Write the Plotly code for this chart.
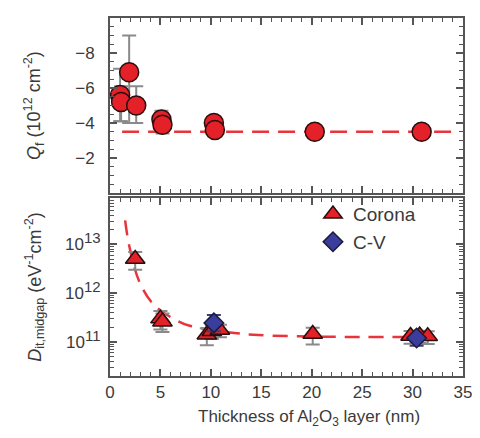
import plotly.graph_objects as go
from plotly.subplots import make_subplots

# ---- Top panel: fixed charge Qf (10^12 cm^-2)
qf_x = [1.0, 1.1, 1.9, 2.6, 5.1, 5.2, 10.3, 10.4, 20.3, 30.9]
qf_y = [-5.6, -5.2, -6.9, -5.0, -4.2, -3.9, -4.0, -3.6, -3.5, -3.5]
qf_err_plus = [1.5, 1.1, 2.9, 1.0, 0.6, 0.5, 0.2, 0.2, 0.1, 0.1]   # toward less negative
qf_err_minus = [1.5, 0.9, 2.1, 1.1, 0.5, 0.6, 0.2, 0.2, 0.1, 0.1]  # toward more negative
qf_fit_x = [1.2, 34.0]
qf_fit_y = [-3.5, -3.5]

# ---- Bottom panel: Dit,midgap (eV^-1 cm^-2)
corona_x = [2.5, 5.0, 5.2, 9.6, 10.1, 10.9, 20.1, 29.8, 30.7, 31.5]
corona_y = [5.0e12, 3.0e11, 2.6e11, 1.4e11, 1.65e11, 1.75e11, 1.45e11, 1.32e11, 1.35e11, 1.3e11]
corona_err_up = [2.0e12, 1.3e11, 1.2e11, 0.5e11, 0.5e11, 0.5e11, 0.5e11, 0.35e11, 0.35e11, 0.35e11]
corona_err_dn = [2.0e12, 1.2e11, 1.0e11, 0.55e11, 0.5e11, 0.5e11, 0.57e11, 0.4e11, 0.4e11, 0.4e11]
cv_x = [10.3, 30.4]
cv_y = [2.45e11, 1.2e11]
cv_err_up = [1.1e11, 0.25e11]
cv_err_dn = [0.8e11, 0.37e11]
dit_fit_x = [1.5, 1.9, 2.9, 4.4, 6.7, 7.9, 11.7, 14.7, 20.0, 25.0, 30.0]
dit_fit_y = [3.1e13, 9.5e12, 1.74e12, 5.6e11, 2.7e11, 2.14e11, 1.58e11, 1.38e11, 1.29e11, 1.26e11, 1.26e11]

x_ticks = [0, 5, 10, 15, 20, 25, 30, 35]
qf_ticks = [-8, -6, -4, -2]
dit_ticks = [1e11, 1e12, 1e13]
dit_exps = ["11", "12", "13"]
dit_ticklabels = ["10<sup><span style='font-size:15px'>%s</span></sup>" % e for e in dit_exps]

RED = "#e42128"
LINE_RED = "#e8343a"
BLUE = "#3b3d9c"
EDGE = "#2b0d0d"
AX = "#555555"
TXT = "#3a3a3a"
FONT = "Liberation Sans"

fig = make_subplots(rows=2, cols=1, shared_xaxes=False, vertical_spacing=0.0)

fig.add_trace(go.Scatter(x=qf_fit_x, y=qf_fit_y, mode="lines",
                         line=dict(color=LINE_RED, width=2.5, dash="17px,9px"),
                         showlegend=False, hoverinfo="skip"), row=1, col=1)
fig.add_trace(go.Scatter(x=qf_x, y=qf_y, mode="markers",
                         marker=dict(symbol="circle", size=19, color=RED,
                                     line=dict(color=EDGE, width=1.5)),
                         error_y=dict(type="data", symmetric=False, array=qf_err_plus,
                                      arrayminus=qf_err_minus, color="#8a8a8a",
                                      thickness=2, width=7),
                         showlegend=False), row=1, col=1)

fig.add_trace(go.Scatter(x=dit_fit_x, y=dit_fit_y, mode="lines",
                         line=dict(color=LINE_RED, width=2.5, dash="15px,9px", shape="spline"),
                         showlegend=False, hoverinfo="skip"), row=2, col=1)
fig.add_trace(go.Scatter(x=corona_x, y=corona_y, mode="markers", name="Corona",
                         marker=dict(symbol="triangle-up", size=17, color=RED,
                                     line=dict(color=EDGE, width=1.5)),
                         error_y=dict(type="data", symmetric=False, array=corona_err_up,
                                      arrayminus=corona_err_dn, color="#8a8a8a",
                                      thickness=2, width=7)), row=2, col=1)
fig.add_trace(go.Scatter(x=cv_x, y=cv_y, mode="markers", name="C-V",
                         marker=dict(symbol="diamond", size=15, color=BLUE,
                                     line=dict(color="#1a1a3a", width=1.5)),
                         error_y=dict(type="data", symmetric=False, array=cv_err_up,
                                      arrayminus=cv_err_dn, color="#3a3f7a",
                                      thickness=2, width=7)), row=2, col=1)

axis_common = dict(showline=True, linecolor=AX, linewidth=2, mirror="ticks",
                   ticks="inside", ticklen=7, tickwidth=1.5, tickcolor=AX,
                   showgrid=False, zeroline=False,
                   tickfont=dict(family=FONT, size=17, color=TXT))

fig.update_xaxes(range=[0, 35], tickvals=x_ticks,
                 minor=dict(dtick=1, ticklen=4, tickwidth=1, tickcolor=AX, ticks="inside", showgrid=False),
                 **axis_common)
fig.update_xaxes(showticklabels=False, row=1, col=1)
fig.update_xaxes(showticklabels=True, row=2, col=1)

fig.update_yaxes(range=[0, -10], tickvals=qf_ticks, ticklabelstandoff=10,
                 minor=dict(dtick=0.5, ticklen=4, tickwidth=1, tickcolor=AX, ticks="inside", showgrid=False),
                 domain=[0.511, 1.0],
                 title=dict(text="<i>Q</i><sub>f</sub> (10<sup>12</sup> cm<sup>-2</sup>)",
                            font=dict(family=FONT, size=18, color=TXT), standoff=30),
                 row=1, col=1, **axis_common)
fig.update_yaxes(type="log", range=[10.3, 13.95], tickvals=dit_ticks, ticktext=dit_ticklabels,
                 ticklabelstandoff=4,
                 minor=dict(dtick="D1", ticklen=4, tickwidth=1, tickcolor=AX, ticks="inside", showgrid=False),
                 domain=[0.0, 0.497],
                 title=dict(text="<i>D</i><sub>it,midgap</sub> (eV<sup>-1</sup>cm<sup>-2</sup>)",
                            font=dict(family=FONT, size=18, color=TXT), standoff=19),
                 row=2, col=1, **axis_common)

fig.add_annotation(text="Thickness of Al<sub>2</sub>O<sub>3</sub> layer (nm)",
                   xref="paper", yref="paper", x=0.565, y=-0.08, xanchor="center", yanchor="top",
                   showarrow=False, font=dict(family=FONT, size=17, color=TXT))

fig.update_layout(
    width=480, height=438,
    margin=dict(l=102, r=25, t=10, b=70, autoexpand=False),
    paper_bgcolor="white", plot_bgcolor="white",
    legend=dict(x=0.575, y=0.505, xanchor="left", yanchor="top",
                font=dict(family=FONT, size=19, color=TXT),
                bgcolor="rgba(0,0,0,0)", itemsizing="trace", tracegroupgap=4),
)

fig.write_html("out.html")
